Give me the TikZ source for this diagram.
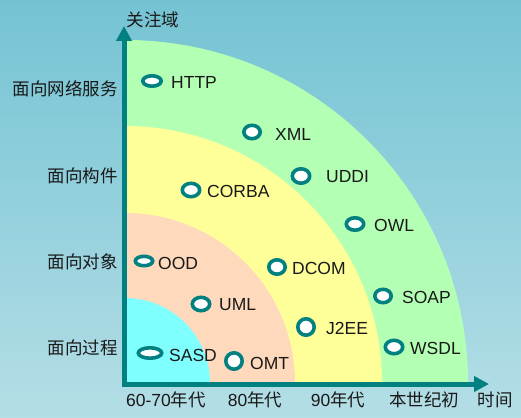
\documentclass[tikz,border=0pt]{standalone}
\usepackage{fontspec}
\setmainfont{Liberation Sans}
\newfontfamily\cjk{Noto Sans CJK SC}
\usetikzlibrary{arrows.meta,shapes.geometric}
\definecolor{bgtop}{RGB}{116,195,211}
\definecolor{bgbot}{RGB}{180,222,230}
\definecolor{axisc}{RGB}{0,128,128}
\definecolor{cyanf}{RGB}{128,255,255}
\definecolor{peachf}{RGB}{255,217,188}
\definecolor{yellowf}{RGB}{255,255,153}
\definecolor{greenf}{RGB}{179,255,179}
\definecolor{txt}{RGB}{25,25,25}
\begin{document}
\begin{tikzpicture}[x=1pt,y=-1pt,
  mk/.style n args={2}{ellipse, draw=axisc, line width=3.6pt, fill=white, inner sep=0pt,
     minimum width=#1pt-3.6pt, minimum height=#2pt-3.6pt},
  lbl/.style={anchor=west, text=txt, font=\fontsize{17.5}{20}\selectfont, inner sep=0pt},
  cat/.style={anchor=east, text=txt, font=\cjk\fontsize{17.5}{20}\selectfont, inner sep=0pt},
  era/.style={anchor=center, text=txt, font=\fontsize{17.5}{20}\selectfont, inner sep=0pt},
  axis/.style={draw=axisc, line width=5pt, line join=miter,
     -{Triangle[length=15pt,width=15pt]}}]
\useasboundingbox (0,0) rectangle (521,417);
\shade[top color=bgtop, bottom color=bgbot] (0,0) rectangle (521,417);
% quadrants
\coordinate (O) at (125,383);
\fill[greenf] (O) -- ++(343,0) arc[start angle=0,end angle=-90,radius=343] -- cycle;
\fill[yellowf] (O) -- ++(257,0) arc[start angle=0,end angle=-90,radius=257] -- cycle;
\fill[peachf] (O) -- ++(170,0) arc[start angle=0,end angle=-90,radius=170] -- cycle;
\fill[cyanf] (O) -- ++(85,0) arc[start angle=0,end angle=-90,radius=85] -- cycle;
% axes
\coordinate (corner) at (124,384);
\coordinate (ytip) at (124,26);
\coordinate (xtip) at (489,384);
\draw[axis] (corner) -- (ytip);
\draw[axis] (corner) -- (xtip);
\fill[axisc] (121.5,381.5) rectangle (126.5,386.5);
% axis titles
\node[anchor=center, text=txt, font=\cjk\fontsize{17.5}{20}\selectfont, inner sep=0pt] (ytitle) at (153,20) {关注域};
\node[anchor=center, text=txt, font=\cjk\fontsize{17.5}{20}\selectfont, inner sep=0pt] (xtitle) at (495,400) {时间};
% categories
\node[cat] (c1) at (118,89) {面向网络服务};
\node[cat] (c2) at (118,176) {面向构件};
\node[cat] (c3) at (118,262) {面向对象};
\node[cat] (c4) at (118,348) {面向过程};
% eras
\node[era] (e1) at (166,400) {60-70{\cjk 年代}};
\node[era] (e2) at (255,400) {80{\cjk 年代}};
\node[era] (e3) at (338,400) {90{\cjk 年代}};
\node[era, font=\cjk\fontsize{17.5}{20}\selectfont] (e4) at (424,400) {本世纪初};
% markers
\node[mk={22}{14}] (mHTTP) at (152,81) {};
\node[mk={20}{17}] (mXML) at (252,132) {};
\node[mk={21}{18}] (mUDDI) at (301,176) {};
\node[mk={21}{17}] (mCORBA) at (191,190) {};
\node[mk={21}{16}] (mOWL) at (355,224) {};
\node[mk={21}{13}] (mOOD) at (144,261) {};
\node[mk={20}{18}] (mDCOM) at (277,267) {};
\node[mk={20}{17}] (mSOAP) at (383,296) {};
\node[mk={21}{17}] (mUML) at (201,304) {};
\node[mk={20}{20}] (mJ2EE) at (306,327) {};
\node[mk={21}{17}] (mWSDL) at (394,347) {};
\node[mk={27}{14}] (mSASD) at (150,353) {};
\node[mk={20}{20}] (mOMT) at (234,361) {};
% labels
\node[lbl] (tHTTP) at (171,82) {HTTP};
\node[lbl] (tXML) at (275,134) {XML};
\node[lbl] (tUDDI) at (326,177) {UDDI};
\node[lbl] (tCORBA) at (207,191) {CORBA};
\node[lbl] (tOWL) at (374,225) {OWL};
\node[lbl] (tOOD) at (158,263) {OOD};
\node[lbl] (tDCOM) at (292,268) {DCOM};
\node[lbl] (tSOAP) at (402,297) {SOAP};
\node[lbl] (tUML) at (219,305) {UML};
\node[lbl] (tJ2EE) at (326,328) {J2EE};
\node[lbl] (tWSDL) at (410,348) {WSDL};
\node[lbl] (tSASD) at (169,355) {SASD};
\node[lbl] (tOMT) at (250,363) {OMT};
\end{tikzpicture}
\end{document}
